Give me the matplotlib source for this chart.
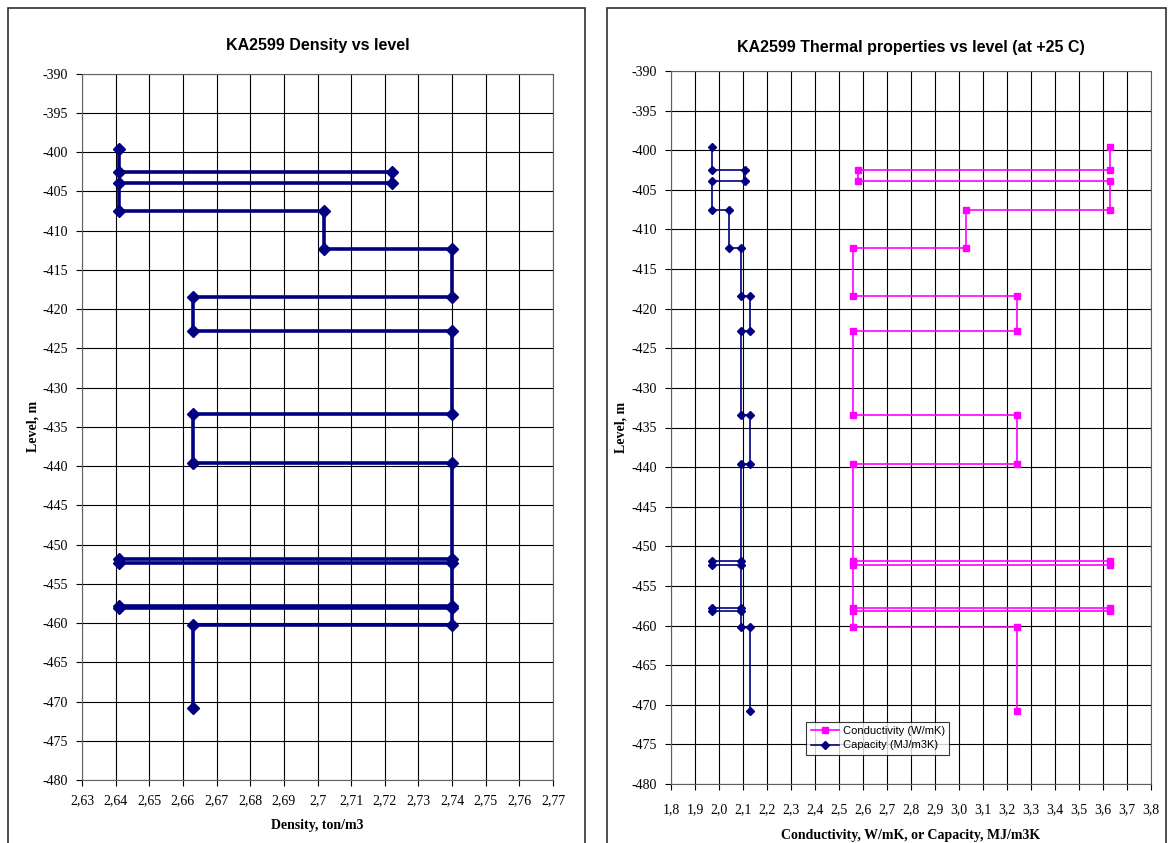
import numpy as np
import matplotlib.pyplot as plt
from matplotlib.patches import Rectangle

# sample interval boundaries along the hole (level, m)
levels = [-399.6, -402.5, -403.9, -407.5, -412.3, -418.4, -422.8, -433.4,
          -439.6, -451.8, -452.4, -457.8, -458.1, -460.2, -470.8]

# one value per interval
density = [2.641, 2.722, 2.641, 2.702, 2.740, 2.663, 2.740, 2.663,
           2.740, 2.641, 2.740, 2.641, 2.740, 2.663]
conductivity = [3.63, 2.58, 3.63, 3.03, 2.56, 3.24, 2.56, 3.24,
                2.56, 3.63, 2.56, 3.63, 2.56, 3.24]
capacity = [1.97, 2.11, 1.97, 2.04, 2.09, 2.13, 2.09, 2.13,
            2.09, 1.97, 2.09, 1.97, 2.09, 2.13]

dens_ticks = np.round(np.arange(2.63, 2.7701, 0.01), 2)
therm_ticks = np.round(np.arange(1.8, 3.8001, 0.1), 1)
level_ticks = np.arange(-480, -389, 5)


def steps(vals, lev):
    # each interval becomes a vertical segment joined to the next one
    xs, ys = [], []
    for i, v in enumerate(vals):
        xs += [v, v]
        ys += [lev[i], lev[i + 1]]
    return xs, ys


def comma(v, fmt):
    return (fmt % v).replace('.', ',')


serif = 'Liberation Serif'
sans = 'Liberation Sans'
W, H = 1171, 843

fig = plt.figure(figsize=(W / 100, H / 100), dpi=100)

# chart frames
for x0, x1 in [(8, 585), (607, 1166)]:
    fig.add_artist(Rectangle((x0 / W, -0.05), (x1 - x0) / W, 1.05 - 8 / H,
                             transform=fig.transFigure, fill=False,
                             edgecolor='#303030', lw=1.2))


def setup(ax, xticks, xlabels, title, xlabel, tpad, xpad, lpad):
    ax.set_ylim(-480, -390)
    ax.set_xlim(xticks[0], xticks[-1])
    ax.set_xticks(xticks)
    ax.set_xticklabels(xlabels, fontfamily=serif, fontsize=10)
    ax.set_yticks(level_ticks)
    ax.set_yticklabels([str(t) for t in level_ticks], fontfamily=serif, fontsize=10)
    ax.grid(True, color='black', lw=0.8)
    ax.set_axisbelow(True)
    ax.tick_params(direction='out', length=4, width=0.8, pad=6)
    for s in ax.spines.values():
        s.set_color('#606060')
        s.set_linewidth(0.8)
    ax.set_title(title, fontfamily=sans, fontweight='bold', fontsize=11.5, pad=tpad)
    ax.set_xlabel(xlabel, fontfamily=serif, fontweight='bold', fontsize=10, labelpad=xpad)
    ax.set_ylabel('Level, m', fontfamily=serif, fontweight='bold', fontsize=10, labelpad=lpad)


# density
ax1 = fig.add_axes([82 / W, 1 - 780 / H, (553 - 82) / W, (780 - 73.6) / H])
x, y = steps(density, levels)
ax1.plot(x, y, color='#000080', lw=2.6, marker='D', ms=6.2)
setup(ax1, dens_ticks, [('%.2f' % t).rstrip('0').replace('.', ',') for t in dens_ticks],
      'KA2599 Density vs level', 'Density, ton/m3', 17, 9, 2)

# thermal properties
ax2 = fig.add_axes([671 / W, 1 - 784 / H, (1151 - 671) / W, (784 - 71) / H])
x, y = steps(conductivity, levels)
ax2.plot(x, y, color='#FF00FF', lw=1.2, marker='s', ms=4.8, label='Conductivity (W/mK)')
x, y = steps(capacity, levels)
ax2.plot(x, y, color='#000080', lw=1.2, marker='D', ms=3.8, label='Capacity (MJ/m3K)')
setup(ax2, therm_ticks, [comma(t, '%.1f') for t in therm_ticks],
      'KA2599 Thermal properties vs level (at +25 C)',
      'Conductivity, W/mK, or Capacity, MJ/m3K', 14, 9, 3)
ax2.tick_params(axis='x', pad=10)
leg = ax2.legend(loc='lower left', bbox_to_anchor=(0.27, 0.033),
                 prop={'family': sans, 'size': 8}, frameon=True, fancybox=False,
                 borderpad=0.4, labelspacing=0.4, handlelength=2.6, handletextpad=0.3)
leg.get_frame().set_edgecolor('black')
leg.get_frame().set_linewidth(0.8)

fig.savefig('out.png', dpi=100)
